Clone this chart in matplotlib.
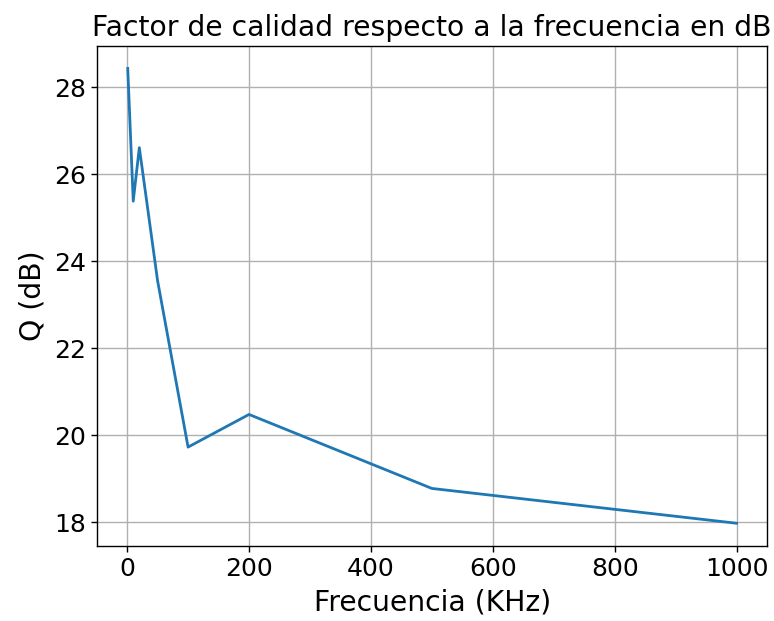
import matplotlib
matplotlib.use("Agg")
import matplotlib.pyplot as plt

# frecuencias medidas (KHz) y factor de calidad (dB)
frecuencia = [1, 10, 20, 50, 100, 200, 500, 1000]
q_db = [28.43, 25.38, 26.61, 23.55, 19.73, 20.48, 18.78, 17.98]

fig = plt.figure(figsize=(7.74, 6.21), dpi=100)
ax = fig.add_axes([97.3 / 774, 1 - 546 / 621, (767 - 97.3) / 774, (546 - 45.7) / 621])

ax.plot(frecuencia, q_db, color="#1f77b4", linewidth=2)
ax.grid(True, color="#b0b0b0", linewidth=1.0)
ax.set_title("Factor de calidad respecto a la frecuencia en dB", fontsize=20.3, pad=7)
ax.set_xlabel("Frecuencia (KHz)", fontsize=20.3, labelpad=5)
ax.set_ylabel("Q (dB)", fontsize=20.3, labelpad=5)
ax.tick_params(labelsize=18, length=4.2, width=1.0, pad=4)
for s in ax.spines.values():
    s.set_linewidth(1.0)

fig.savefig("out.png", dpi=100)
